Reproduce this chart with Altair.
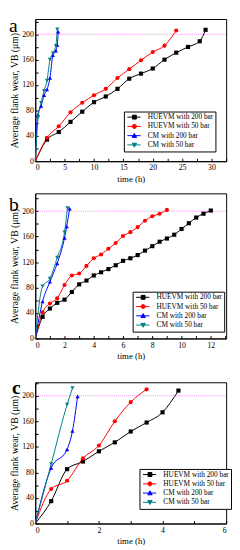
import altair as alt
import pandas as pd

names = ["HUEVM with 200 bar", "HUEVM with 50 bar", "CM with 200 bar", "CM with 50 bar"]
colors = ["#000000", "#ff0000", "#0000ff", "#008080"]
shapes = ["square", "circle", "triangle-up", "triangle-down"]
legend_paths = [
    "M-3.6,0H3.2M-1,-1H1V1H-1Z",
    "M-3.6,0H3.2M-1.05,0A1.05,1.05 0 1,0 1.05,0A1.05,1.05 0 1,0 -1.05,0Z",
    "M-3.6,0H3.2M0,-1.15L1.15,0.9H-1.15Z",
    "M-3.6,0H3.2M0,1.15L1.15,-0.9H-1.15Z",
]

# ---- panel a ----
a_h200_t = [0, 2, 4, 6, 8, 10, 12, 14, 16, 18, 20, 22, 24, 26, 28, 29]
a_h200_v = [0, 34, 46, 62, 78, 93, 102, 114, 130, 138, 146, 160, 171, 180, 189, 207]
a_h50_t = [0, 2, 4, 6, 8, 10, 12, 14, 16, 18, 20, 22, 24]
a_h50_v = [0, 37, 55, 77, 92, 104, 114, 131, 145, 159, 172, 182, 206]
a_c200_t = [0, 0.4, 1, 1.5, 2, 2.5, 3, 3.5, 3.75, 3.9]
a_c200_v = [0, 72, 87, 104, 113, 131, 167, 174, 183, 204]
a_c50_t = [0, 0.5, 1, 1.5, 2, 2.5, 3, 3.5, 3.75]
a_c50_v = [0, 70, 92, 111, 127, 160, 170, 182, 208]

# ---- panel b ----
b_h200_t = [0, 0.5, 1, 1.5, 2, 2.5, 3, 3.5, 4, 4.5, 5, 5.5, 6, 6.5, 7, 7.5, 8, 8.5, 9, 9.5, 10, 10.5, 11, 11.5, 12]
b_h200_v = [0, 34, 47, 56, 61, 73, 85, 91, 99, 104, 109, 115, 122, 126, 131, 138, 145, 152, 157, 163, 172, 181, 190, 196, 201]
b_h50_t = [0, 0.5, 1, 1.5, 2, 2.5, 3, 3.5, 4, 4.5, 5, 5.5, 6, 6.5, 7, 7.5, 8, 8.5, 9]
b_h50_v = [0, 41, 55, 63, 84, 99, 102, 114, 126, 132, 141, 150, 161, 167, 175, 185, 192, 196, 202]
b_c200_t = [0, 0.5, 1, 1.5, 2, 2.15, 2.35]
b_c200_v = [0, 58, 89, 118, 158, 176, 204]
b_c50_t = [0, 0.5, 1, 1.5, 2, 2.2]
b_c50_v = [0, 82, 94, 127, 167, 205]

# ---- panel c ----
c_h200_t = [0, 0.5, 1, 1.5, 2, 2.5, 3, 3.5, 4, 4.5]
c_h200_v = [0, 35, 85, 97, 113, 127, 144, 158, 174, 208]
c_h50_t = [0, 0.5, 1, 1.5, 2, 2.5, 3, 3.5]
c_h50_v = [0, 54, 67, 102, 122, 160, 190, 210]
c_c200_t = [0, 0.5, 1, 1.17, 1.33]
c_c200_v = [0, 87, 116, 145, 199]
c_c50_t = [0, 0.5, 1, 1.17]
c_c50_v = [0, 93, 186, 212]

y_ticks = [0, 20, 40, 60, 80, 100, 120, 140, 160, 180, 200, 220]
threshold = 200
serif = "Liberation Serif"


def frame(series):
    rows = []
    for name, (ts, vs) in zip(names, series):
        for t, v in zip(ts, vs):
            rows.append({"series": name, "t": t, "v": v})
    return pd.DataFrame(rows)


def panel(df, xdom, xticks, xmajor, ydom, w, h, letter, lx, ly, bold):
    legend = alt.Legend(
        title=None, orient="none", legendX=lx, legendY=ly,
        fillColor="white", strokeColor="black", padding=2, cornerRadius=0,
        labelFont=serif, labelFontSize=7.5, labelColor="black", labelOffset=10,
        symbolSize=16, symbolOffset=5, rowPadding=0.5, labelLimit=200,
        symbolStrokeWidth=1,
    )
    x = alt.X("t:Q", scale=alt.Scale(domain=xdom, nice=False, zero=True),
              axis=alt.Axis(values=xticks, title="time (h)", tickSize=alt.ExprRef(expr="-3"),
                            labelPadding=6, titlePadding=3, titleFontSize=9, labelOverlap=False,
                            labelExpr=f"abs(datum.value / {xmajor} - round(datum.value / {xmajor})) < 0.001 ? datum.label : ''"))
    y = alt.Y("v:Q", scale=alt.Scale(domain=ydom, nice=False),
              axis=alt.Axis(values=y_ticks, title="Average flank wear, VB (μm)",
                            tickSize=alt.ExprRef(expr="-3"),
                            labelPadding=5, titlePadding=2, titleFontSize=10, labelOverlap=False,
                            labelBound=False,
                            labelExpr="datum.value % 40 === 0 ? datum.label : ''"))
    color_nl = alt.Color("series:N", scale=alt.Scale(domain=names, range=colors), legend=None)
    shape_nl = alt.Shape("series:N", scale=alt.Scale(domain=names, range=shapes), legend=None)
    base = alt.Chart(df)
    rule = alt.Chart(pd.DataFrame({"v": [threshold]})).mark_rule(
        color="#ff66ff", strokeDash=[1, 1], strokeWidth=0.8
    ).encode(y=y)
    lines = base.mark_line(interpolate="monotone", strokeWidth=1).encode(x=x, y=y, color=color_nl)
    pts = base.transform_filter("datum.t > 0").mark_point(filled=True, size=18, opacity=1).encode(
        x=x, y=y, color=color_nl, shape=shape_nl)
    leg = base.transform_filter("datum.t < 0").mark_point(filled=True, size=16, opacity=1).encode(
        x=x, y=y,
        color=alt.Color("series:N", scale=alt.Scale(domain=names, range=colors), legend=legend),
        stroke=alt.Stroke("series:N", scale=alt.Scale(domain=names, range=colors), legend=legend),
        shape=alt.Shape("series:N", scale=alt.Scale(domain=names, range=legend_paths), legend=legend),
    )
    lab = alt.Chart(pd.DataFrame({"lab": [letter]})).mark_text(
        font=serif, fontSize=20, fontWeight="bold" if bold else "normal",
        align="left", baseline="alphabetic", color="black"
    ).encode(text="lab:N", x=alt.value(-24 if bold else -27),
             y=alt.value({"a": 13, "b": 18, "c": 12}[letter]))
    return alt.layer(rule, lines, pts, leg, lab).resolve_scale(
        color="independent", shape="independent", stroke="independent"
    ).properties(width=w, height=h)


pa = panel(frame([(a_h200_t, a_h200_v), (a_h50_t, a_h50_v), (a_c200_t, a_c200_v), (a_c50_t, a_c50_v)]),
           [0, 32.5], [0, 2.5, 5, 7.5, 10, 12.5, 15, 17.5, 20, 22.5, 25, 27.5, 30, 32.5], 5,
           [0, 224], 196, 146, "a", 91, 95, False)
pb = panel(frame([(b_h200_t, b_h200_v), (b_h50_t, b_h50_v), (b_c200_t, b_c200_v), (b_c50_t, b_c50_v)]),
           [0, 13.05], [0, 1, 2, 3, 4, 5, 6, 7, 8, 9, 10, 11, 12, 13], 2,
           [0, 228], 196, 149, "b", 100, 101, False)
pc = panel(frame([(c_h200_t, c_h200_v), (c_h50_t, c_h50_v), (c_c200_t, c_c200_v), (c_c50_t, c_c50_v)]),
           [0, 6], [0, 1, 2, 3, 4, 5, 6], 2,
           [0, 221], 196, 145, "c", 107, 89, True)

chart = alt.vconcat(alt.vconcat(pa, pb, spacing=8), pc, spacing=16).properties(padding=0).configure_view(
    stroke="black", strokeWidth=1
).configure_axis(
    domainColor="black", tickColor="black", labelColor="black", titleColor="black",
    labelFont=serif, titleFont=serif, labelFontSize=8, titleFontWeight="normal", grid=False
)

chart.save("out.html", embed_options={"renderer": "svg", "actions": False})
